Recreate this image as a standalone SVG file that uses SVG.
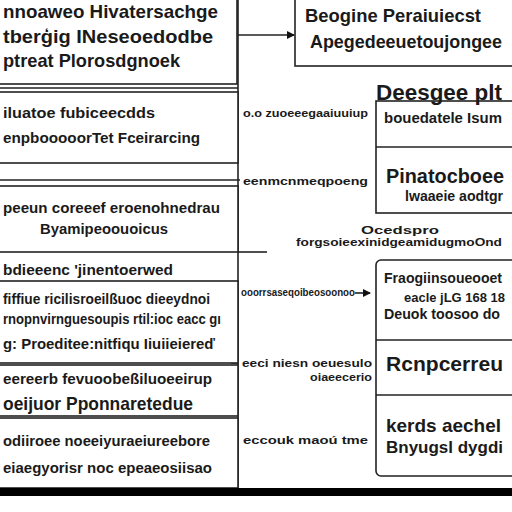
<svg xmlns="http://www.w3.org/2000/svg" width="512" height="512" viewBox="0 0 512 512">
<defs>
<style>
text{font-family:"Liberation Sans","DejaVu Sans",sans-serif;fill:#1a1a1a;font-weight:bold;}
.b{fill:#fff;stroke:#222;stroke-width:1.6;}
.ln{stroke:#222;stroke-width:1.6;fill:none;}
.lg{font-size:19px;}
.md{font-size:15px;}
.sm{font-size:10.5px;}
</style>
<marker id="ah" markerWidth="8" markerHeight="8" refX="7" refY="4" orient="auto" markerUnits="userSpaceOnUse">
<path d="M0,0 L8,4 L0,8 Z" fill="#111"/>
</marker>
</defs>
<rect x="0" y="0" width="512" height="512" fill="#fff"/>

<g id="connectors">
<line class="ln" x1="238" y1="0" x2="238" y2="488"/>
<line class="ln" x1="238" y1="35" x2="294" y2="35" marker-end="url(#ah)"/>
<line class="ln" x1="238" y1="252" x2="267" y2="252"/>
<line class="ln" x1="355" y1="293" x2="370" y2="293" marker-end="url(#ah)"/>
<line class="ln" x1="231" y1="363" x2="238" y2="363"/>
<text class="sm" x="243" y="117" textLength="125" lengthAdjust="spacingAndGlyphs">o.o zuoeeegaaiuuiup</text>
<text class="sm" x="243" y="185" textLength="125" lengthAdjust="spacingAndGlyphs">eenmcnmeqpoeng</text>
<text class="sm" x="361" y="234" textLength="78" lengthAdjust="spacingAndGlyphs">Ocedspro</text>
<text class="sm" x="296" y="246" textLength="206" lengthAdjust="spacingAndGlyphs">forgsoieexinidgeamidugmoOnd</text>
<text class="sm" x="241" y="296" textLength="114" lengthAdjust="spacingAndGlyphs">ooorrsaseqoibeosoonoo</text>
<text class="sm" x="242" y="367" textLength="130" lengthAdjust="spacingAndGlyphs">eeci niesn oeuesulo</text>
<text class="sm" x="310" y="381" textLength="62" lengthAdjust="spacingAndGlyphs">oiaeecerio</text>
<text class="sm" x="243" y="444" textLength="125" lengthAdjust="spacingAndGlyphs">eccouk maoú tme</text>
</g>

<g id="node-l1">
<rect class="b" x="-2" y="-2" width="239" height="86"/>
<line class="ln" x1="0" y1="88" x2="238" y2="88"/>
<text class="lg" x="3" y="18" textLength="215" lengthAdjust="spacingAndGlyphs">nnoaweo Hivatersachge</text>
<text class="lg" x="3" y="43" textLength="210" lengthAdjust="spacingAndGlyphs">tberģig INeseoedodbe</text>
<text class="lg" x="3" y="67" textLength="177" lengthAdjust="spacingAndGlyphs">ptreat Plorosdgnoek</text>
</g>

<g id="node-l2">
<rect class="b" x="-2" y="92" width="240" height="71"/>
<text class="md" x="3" y="118" textLength="152" lengthAdjust="spacingAndGlyphs">iluatoe fubiceecdds</text>
<text class="md" x="3" y="143" textLength="197" lengthAdjust="spacingAndGlyphs">enpbooooorTet Fceirarcing</text>
</g>

<g id="node-l3">
<line class="ln" x1="0" y1="180" x2="240" y2="180"/>
<rect class="b" x="-2" y="186" width="240" height="66"/>
<text class="md" x="3" y="213" textLength="217" lengthAdjust="spacingAndGlyphs">peeun coreeef eroenohnedrau</text>
<text class="md" x="40" y="234" textLength="128" lengthAdjust="spacingAndGlyphs">Byamipeoouoicus</text>
</g>

<g id="label-l">
<text class="md" x="3" y="275" textLength="170" lengthAdjust="spacingAndGlyphs">bdieeenc 'jinentoerwed</text>
</g>

<g id="node-l4">
<rect class="b" x="-2" y="281" width="240" height="82"/>
<text class="md" x="3" y="304" textLength="207" lengthAdjust="spacingAndGlyphs">fiffiue ricilisroeilßuoc dieeydnoi</text>
<text class="md" x="3" y="324" textLength="218" lengthAdjust="spacingAndGlyphs">rnopnvirnguesoupis rtil:ioc eacc gı</text>
<text class="md" x="3" y="349" textLength="212" lengthAdjust="spacingAndGlyphs">g: Proeditee:nitfiqu Iiuiieiereď</text>
</g>

<g id="node-l5">
<rect class="b" x="-2" y="365" width="240" height="51"/>
<text class="md" x="3" y="384" textLength="209" lengthAdjust="spacingAndGlyphs">eereerb fevuoobeßiluoeeirup</text>
<text class="lg" x="3" y="410" textLength="190" lengthAdjust="spacingAndGlyphs">oeijuor Pponnaretedue</text>
</g>

<g id="node-l6">
<rect class="b" x="-2" y="418" width="240" height="70"/>
<text class="md" x="3" y="446" textLength="207" lengthAdjust="spacingAndGlyphs">odiiroee noeeiyuraeiureebore</text>
<text class="md" x="3" y="473" textLength="209" lengthAdjust="spacingAndGlyphs">eiaegyorisr noc epeaeosiisao</text>
</g>

<g id="node-r1">
<rect class="b" x="295" y="-2" width="220" height="68"/>
<text x="305" y="22" font-size="19" textLength="176" lengthAdjust="spacingAndGlyphs">Beogine Peraiuiecst</text>
<text x="310" y="48" font-size="17.5" textLength="192" lengthAdjust="spacingAndGlyphs">Apegedeeuetoujongee</text>
</g>

<g id="node-r2">
<rect class="b" x="376" y="101" width="140" height="112"/>
<line class="ln" x1="376" y1="147" x2="512" y2="147"/>
<text x="376" y="100" font-size="22" textLength="126" lengthAdjust="spacingAndGlyphs">Deesgee plt</text>
<text x="384" y="123" font-size="15" textLength="118" lengthAdjust="spacingAndGlyphs">bouedatele Isum</text>
<text x="386" y="183" font-size="20" textLength="118" lengthAdjust="spacingAndGlyphs">Pinatocboee</text>
<text x="405" y="201" font-size="14" textLength="98" lengthAdjust="spacingAndGlyphs">lwaaeie aodtgr</text>
</g>

<g id="node-r3">
<rect class="b" x="376" y="260" width="145" height="216" rx="5"/>
<line class="ln" x1="376" y1="340" x2="512" y2="340"/>
<line class="ln" x1="376" y1="395" x2="512" y2="395"/>
<text x="384" y="283" font-size="14" textLength="118" lengthAdjust="spacingAndGlyphs">Fraogiinsoueooet</text>
<text x="404" y="302" font-size="13" textLength="101" lengthAdjust="spacingAndGlyphs">eacle jLG 168 18</text>
<text x="384" y="319" font-size="14" textLength="116" lengthAdjust="spacingAndGlyphs">Deuok toosoo do</text>
<text x="386" y="371" font-size="21" textLength="117" lengthAdjust="spacingAndGlyphs">Rcnpcerreu</text>
<text x="386" y="432" font-size="19" textLength="115" lengthAdjust="spacingAndGlyphs">kerds aechel</text>
<text x="386" y="453" font-size="17" textLength="117" lengthAdjust="spacingAndGlyphs">Bnyugsl dygdi</text>
</g>

<rect x="0" y="488" width="512" height="8" fill="#000"/>
</svg>
